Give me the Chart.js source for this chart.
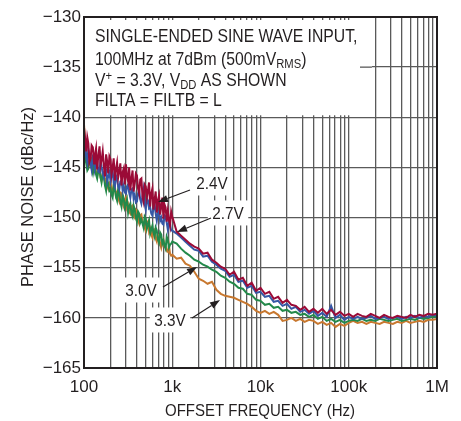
<!DOCTYPE html>
<html>
<head>
<meta charset="utf-8">
<script src="https://cdn.jsdelivr.net/npm/chart.js@4.4.1/dist/chart.umd.min.js"></script>
<style>
html, body { margin: 0; padding: 0; background: #fff; }
#wrap { width: 461px; height: 421px; position: relative; }
</style>
</head>
<body>
<div id="wrap"><canvas id="chart"></canvas></div>
<script>
"use strict";
// offset frequency (Hz)
const freqs = [100, 103, 106, 109, 112, 115, 119, 122, 126, 130, 133, 137, 141, 145, 150, 154, 158, 163, 168, 173,
    178, 183, 188, 194, 200, 205, 211, 217, 224, 230, 237, 244, 251, 258, 266, 274, 282, 290, 299, 307,
    316, 325, 335, 345, 355, 365, 376, 387, 398, 410, 422, 434, 447, 460, 473, 487, 501, 516, 531, 546,
    562, 579, 596, 613, 631, 649, 668, 688, 708, 729, 750, 772, 794, 818, 841, 866, 891, 917, 944, 972,
    1000, 1122, 1259, 1413, 1585, 1778, 1995, 2239, 2512, 2818, 3162, 3548, 3981, 4467, 5012, 5623, 6310, 7079, 7943, 8913,
    10000, 11220, 12589, 14125, 15849, 17783, 19953, 22387, 25119, 28184, 31623, 35481, 39811, 44668, 50119, 56234, 63096, 70795, 79433, 89125,
    100000, 112202, 125893, 141254, 158489, 177828, 199526, 223872, 251189, 281838, 316228, 354813, 398107, 446684, 501187, 562341, 630957, 707946, 794328, 891251, 1000000];
// phase noise (dBc/Hz) for each VDD
const pn24 = [-141.0, -142.1, -143.4, -142.0, -142.6, -144.5, -144.1, -142.8, -143.0, -144.6,
    -143.8, -143.1, -145.2, -143.9, -142.9, -144.8, -144.3, -143.4, -144.9, -145.9,
    -143.7, -144.4, -145.6, -143.9, -144.2, -145.7, -145.0, -144.1, -146.3, -145.2,
    -144.5, -146.0, -145.4, -144.6, -146.8, -145.5, -145.1, -146.7, -144.7, -145.9,
    -146.4, -145.0, -147.3, -146.1, -145.3, -147.4, -146.6, -145.6, -145.8, -147.1,
    -147.6, -146.2, -146.1, -147.9, -148.4, -146.7, -146.9, -148.0, -147.3, -146.5,
    -148.9, -147.6, -147.1, -149.2, -148.2, -147.4, -149.5, -148.3, -147.8, -149.7,
    -148.9, -148.0, -150.1, -148.7, -149.0, -150.4, -149.3, -150.2, -150.8, -149.4,
    -149.9, -151.4, -151.8, -152.2, -152.6, -152.9, -153.1, -153.6, -153.5, -154.2,
    -154.5, -154.9, -155.1, -155.7, -155.4, -156.2, -156.0, -156.8, -156.5, -157.3,
    -157.0, -157.6, -157.4, -158.1, -157.9, -158.5, -158.2, -158.7, -158.8, -159.2,
    -158.9, -159.4, -159.1, -159.5, -159.1, -159.6, -159.2, -159.7, -159.4, -159.8,
    -159.6, -159.9, -159.6, -159.8, -159.9, -159.6, -159.8, -160.0, -159.7, -159.9,
    -160.0, -159.8, -159.9, -160.0, -159.7, -159.9, -159.7, -159.8, -159.6, -159.7, -159.6];
const pn27 = [-141.9, -142.8, -143.9, -144.5, -143.2, -143.7, -144.6, -145.2, -144.0, -144.3,
    -145.1, -144.6, -144.4, -145.4, -145.5, -144.2, -144.9, -145.6, -146.0, -145.0,
    -145.2, -146.4, -145.9, -145.5, -146.4, -145.8, -145.4, -146.5, -146.9, -145.8,
    -146.1, -146.9, -147.2, -146.4, -146.3, -147.3, -146.8, -147.5, -147.6, -146.9,
    -146.7, -147.5, -148.0, -147.2, -147.1, -148.1, -147.7, -148.5, -148.4, -147.6,
    -147.3, -148.2, -148.6, -147.9, -147.2, -148.6, -149.2, -148.1, -148.3, -149.1,
    -149.0, -149.6, -149.8, -149.0, -148.7, -149.6, -150.3, -149.5, -149.4, -150.3,
    -150.0, -150.6, -150.7, -149.8, -149.9, -150.5, -151.2, -150.5, -150.6, -151.3,
    -151.3, -151.6, -152.0, -152.4, -152.8, -153.2, -153.3, -153.9, -153.8, -154.4,
    -154.7, -155.1, -155.3, -155.9, -155.7, -156.4, -156.3, -157.0, -156.8, -157.5,
    -157.4, -157.9, -157.8, -158.4, -158.3, -158.8, -158.6, -159.1, -158.9, -159.4,
    -159.2, -159.6, -159.3, -159.8, -159.5, -159.9, -158.8, -160.0, -159.7, -160.2,
    -159.9, -160.1, -159.9, -160.1, -160.0, -159.8, -160.1, -160.0, -159.9, -160.1,
    -160.0, -159.9, -160.1, -159.9, -160.0, -159.8, -160.0, -159.8, -159.9, -159.7, -159.8];
const pn30 = [-142.7, -143.9, -144.6, -145.3, -145.1, -144.4, -144.2, -145.1, -145.6, -144.8,
    -145.0, -145.7, -146.1, -145.4, -145.3, -146.0, -146.5, -145.7, -145.9, -146.8,
    -147.3, -146.2, -146.6, -147.3, -147.1, -147.7, -148.0, -146.8, -147.2, -147.9,
    -148.3, -147.1, -147.6, -148.4, -148.9, -147.7, -148.1, -149.0, -148.6, -148.2,
    -149.5, -148.9, -148.6, -149.6, -149.9, -148.8, -149.2, -150.0, -150.4, -149.4,
    -149.6, -150.5, -150.2, -150.6, -151.0, -149.9, -150.1, -151.1, -150.7, -150.3,
    -151.6, -151.2, -150.8, -151.5, -151.9, -151.0, -151.3, -152.2, -152.5, -151.5,
    -151.7, -152.6, -152.3, -152.8, -153.1, -151.9, -152.2, -153.0, -152.7, -152.6,
    -152.4, -152.6, -153.1, -153.5, -153.8, -154.2, -154.4, -154.7, -154.9, -155.2,
    -155.4, -155.8, -156.0, -156.4, -156.6, -157.0, -157.1, -157.6, -157.7, -158.2,
    -158.3, -158.7, -158.6, -159.0, -158.9, -159.3, -159.2, -159.5, -159.4, -159.7,
    -159.6, -159.9, -159.7, -160.1, -159.9, -160.3, -160.1, -160.4, -160.2, -160.5,
    -160.3, -160.2, -160.3, -160.1, -160.3, -160.2, -160.3, -160.1, -160.2, -160.3,
    -160.2, -160.1, -160.3, -160.2, -160.1, -160.2, -160.0, -160.1, -160.0, -159.9, -159.9];
const pn33 = [-140.7, -142.6, -143.8, -144.6, -144.9, -144.2, -144.0, -145.0, -145.4, -144.7,
    -144.6, -145.5, -145.8, -145.2, -145.1, -146.0, -146.3, -145.6, -145.5, -146.5,
    -146.2, -146.8, -147.1, -146.5, -146.4, -147.4, -147.6, -146.7, -146.9, -147.8,
    -147.5, -148.1, -148.4, -147.5, -147.6, -148.6, -148.9, -148.2, -148.0, -149.0,
    -148.7, -149.4, -149.6, -148.9, -148.8, -149.8, -150.0, -149.2, -149.3, -150.3,
    -150.6, -149.8, -149.7, -150.4, -150.5, -151.0, -151.3, -150.6, -150.4, -151.4,
    -151.1, -151.7, -152.0, -151.3, -151.2, -152.1, -152.4, -151.7, -151.8, -152.6,
    -153.0, -152.4, -152.2, -152.9, -152.9, -153.3, -153.4, -152.8, -153.6, -153.8,
    -153.7, -154.1, -154.0, -154.6, -154.8, -155.4, -156.1, -156.3, -156.6, -156.4,
    -157.2, -157.6, -157.8, -157.9, -158.0, -158.2, -158.4, -158.6, -158.9, -159.3,
    -159.5, -159.3, -159.6, -159.4, -159.7, -160.3, -160.2, -160.0, -160.3, -160.1,
    -160.4, -160.2, -160.3, -160.6, -160.4, -160.7, -160.5, -160.9, -160.6, -160.8,
    -160.5, -160.3, -160.5, -160.4, -160.6, -160.4, -160.5, -160.6, -160.4, -160.5,
    -160.6, -160.4, -160.5, -160.3, -160.5, -160.4, -160.3, -160.4, -160.2, -160.2, -160.1];

const seriesNames = ["2.4V", "2.7V", "3.0V", "3.3V"];
const seriesColors = ["#9b0b37", "#3657a5", "#23894a", "#c8782f"];

const yTicks = [-130, -135, -140, -145, -150, -155, -160, -165];
const yTickLabels = ["\u2212130", "\u2212135", "\u2212140", "\u2212145", "\u2212150", "\u2212155", "\u2212160", "\u2212165"];
const decades = [100, 1000, 10000, 100000, 1000000];
const decadeLabels = ["100", "1k", "10k", "100k", "1M"];

// label positions (freq, dB): text centre, arrow start, arrow tip
const labelAt = [[2821, -146.55], [4285, -149.54], [443, -157.22], [943, -160.21]];
const arrowFrom = [[1589, -147.25], [2748, -150.04], [785, -156.92], [1675, -160.01]];
const arrowTo = [[689, -148.45], [1132, -151.44], [1908, -154.93], [3476, -158.22]];

const noteLines = [
    [["SINGLE-ENDED SINE WAVE INPUT,", "n"]],
    [["100MHz at 7dBm (500mV", "n"], ["RMS", "sub"], [")", "n"]],
    [["V", "n"], ["+", "sup"], [" = 3.3V, V", "n"], ["DD", "sub"], [" AS SHOWN", "n"]],
    [["FILTA = FILTB = L", "n"]]
];
const noteLineY = [-132.05, -134.3, -136.4, -138.4];

const FONT = '"Liberation Sans", Arial, Helvetica, sans-serif';
const INK = "#231f20";
const GRID = "#5a5a5a";
const SQUEEZE = 0.9;

const xGrid = [];
for (let d = 0; d < decades.length - 1; d++) {
    for (let k = 1; k < 10; k++) xGrid.push(decades[d] * k);
}
xGrid.push(decades[decades.length - 1]);

// draw text squeezed horizontally, returns drawn width
function squeezed(c, txt, x, y, sx) {
    c.save();
    c.translate(x, y);
    c.scale(sx, 1);
    c.fillText(txt, 0, 0);
    c.restore();
    return c.measureText(txt).width * sx;
}

function arrow(c, x0, y0, x1, y1) {
    const a = Math.atan2(y1 - y0, x1 - x0);
    const hl = 10, hw = 3.6;
    const bx = x1 - hl * Math.cos(a), by = y1 - hl * Math.sin(a);
    c.strokeStyle = INK;
    c.lineWidth = 1.2;
    c.beginPath();
    c.moveTo(x0, y0);
    c.lineTo(bx, by);
    c.stroke();
    c.fillStyle = INK;
    c.beginPath();
    c.moveTo(x1, y1);
    c.lineTo(bx + hw * Math.sin(a), by - hw * Math.cos(a));
    c.lineTo(bx - hw * Math.sin(a), by + hw * Math.cos(a));
    c.closePath();
    c.fill();
}

const overlay = {
    id: "overlay",
    afterDatasetsDraw(chart) {
        const c = chart.ctx;
        const xs = chart.scales.x, ys = chart.scales.y, area = chart.chartArea;
        const px = f => xs.getPixelForValue(f);
        const py = v => ys.getPixelForValue(v);
        c.save();
        // note box
        c.fillStyle = "#fff";
        const l = area.left + 1, r = px(183000), t = py(-130.3), b = py(-139.8);
        c.fillRect(l, t, r - l, b - t);
        c.strokeStyle = GRID;
        c.lineWidth = 1.3;
        c.beginPath();
        c.moveTo(px(134000), py(-135));
        c.lineTo(r, py(-135));
        c.stroke();
        c.fillStyle = INK;
        c.textBaseline = "middle";
        c.textAlign = "left";
        noteLines.forEach((segs, i) => {
            let x = px(133);
            const y = py(noteLineY[i]);
            for (const [txt, mode] of segs) {
                if (mode === "n") {
                    c.font = "17.5px " + FONT;
                    x += squeezed(c, txt, x, y, SQUEEZE);
                } else {
                    c.font = "12.5px " + FONT;
                    x += squeezed(c, txt, x, mode === "sub" ? y + 4 : y - 5, SQUEEZE);
                }
            }
        });
        // voltage labels + arrows
        c.font = "17px " + FONT;
        c.textAlign = "center";
        seriesNames.forEach((name, i) => {
            const x = px(labelAt[i][0]), y = py(labelAt[i][1]);
            const w = c.measureText(name).width * SQUEEZE + 9;
            c.fillStyle = "#fff";
            c.fillRect(x - w / 2, y - 12.5, w, 25);
            c.fillStyle = INK;
            squeezed(c, name, x, y + 1, SQUEEZE);
            arrow(c, px(arrowFrom[i][0]), py(arrowFrom[i][1]), px(arrowTo[i][0]), py(arrowTo[i][1]));
        });
        // frame
        c.strokeStyle = INK;
        c.lineWidth = 2;
        c.strokeRect(area.left, area.top, area.right - area.left, area.bottom - area.top);
        c.restore();
    },
    afterDraw(chart) {
        const c = chart.ctx;
        c.save();
        c.fillStyle = INK;
        c.textAlign = "center";
        c.textBaseline = "middle";
        c.font = "17px " + FONT;
        squeezed(c, "OFFSET FREQUENCY (Hz)", 260, 411, 190 / c.measureText("OFFSET FREQUENCY (Hz)").width);
        c.translate(28, 197);
        c.rotate(-Math.PI / 2);
        squeezed(c, "PHASE NOISE (dBc/Hz)", 0, 0, 180 / c.measureText("PHASE NOISE (dBc/Hz)").width);
        c.restore();
    }
};

const allSeries = [pn24, pn27, pn30, pn33];
const datasets = allSeries.map((ys, i) => ({
    label: seriesNames[i],
    data: freqs.map((f, k) => ({ x: f, y: ys[k] })),
    borderColor: seriesColors[i],
    borderWidth: 2,
    pointRadius: 0,
    fill: false,
    tension: 0
}));

const ctx = document.getElementById("chart").getContext("2d");
const chart = new Chart(ctx, {
    type: "line",
    data: { datasets: datasets },
    options: {
        responsive: true,
        maintainAspectRatio: false,
        animation: false,
        layout: { padding: { left: 0, right: 24, top: 17, bottom: 0 } },
        plugins: { legend: { display: false }, tooltip: { enabled: false } },
        scales: {
            x: {
                type: "logarithmic",
                min: 100,
                max: 1000000,
                afterBuildTicks: axis => { axis.ticks = xGrid.map(v => ({ value: v })); },
                afterFit: s => { s.height = 53; },
                ticks: {
                    autoSkip: false,
                    maxRotation: 0,
                    padding: 9,
                    color: INK,
                    font: { family: FONT, size: 17 },
                    callback: v => {
                        const k = decades.findIndex(d => Math.abs(d - v) < 1e-6 * d);
                        return k < 0 ? "" : decadeLabels[k];
                    }
                },
                grid: { color: GRID, lineWidth: 1.3, drawTicks: false },
                border: { display: false }
            },
            y: {
                min: -165,
                max: -130,
                afterBuildTicks: axis => { axis.ticks = yTicks.map(v => ({ value: v })); },
                afterFit: s => { s.width = 84; },
                ticks: {
                    padding: 3,
                    color: INK,
                    font: { family: FONT, size: 17 },
                    callback: v => yTickLabels[yTicks.indexOf(v)]
                },
                grid: { color: GRID, lineWidth: 1.3, drawTicks: false },
                border: { display: false }
            }
        }
    },
    plugins: [overlay]
});
</script>
</body>
</html>
